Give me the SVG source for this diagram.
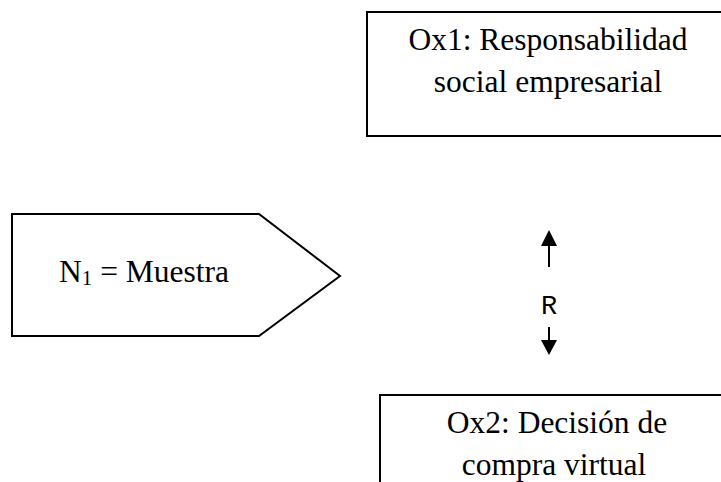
<svg xmlns="http://www.w3.org/2000/svg" width="721" height="482" viewBox="0 0 721 482">
<style>
.box{fill:#fff;stroke:#000;stroke-width:2}
.t{font-family:"Liberation Serif","Times New Roman",serif;font-size:31.5px;fill:#000;text-anchor:middle}
.ts{font-family:"Liberation Serif","Times New Roman",serif;font-size:31.5px;fill:#000;text-anchor:start}
.r{font-family:"Liberation Mono","Courier New",monospace;font-size:27px;fill:#000;text-anchor:middle}
.conn{stroke:#000;stroke-width:2;fill:none}
</style>
<rect width="721" height="482" fill="#fff"/>
<g id="ox1">
<rect class="box" x="367" y="12" width="370" height="124"/>
<text class="t" x="548" y="50">Ox1: Responsabilidad</text>
<text class="t" x="548" y="92">social empresarial</text>
</g>
<g id="n1">
<polygon class="box" points="12,214 259,214 340,276 259,336 12,336"/>
<text class="ts" x="59" y="282">N<tspan font-size="21" dy="3">1</tspan><tspan dy="-3"> = Muestra</tspan></text>
</g>
<g id="ox2">
<rect class="box" x="380" y="395" width="360" height="100"/>
<text class="t" x="557" y="433">Ox2: Decisión de</text>
<text class="t" x="554" y="475">compra virtual</text>
</g>
<g id="connectors">
<line class="conn" x1="549" y1="267" x2="549" y2="245"/>
<polygon points="549,230 541,246 557,246" fill="#000"/>
<line class="conn" x1="549" y1="327" x2="549" y2="341"/>
<polygon points="549,355 541,340 557,340" fill="#000"/>
<text class="r" x="549" y="314">R</text>
</g>
</svg>
